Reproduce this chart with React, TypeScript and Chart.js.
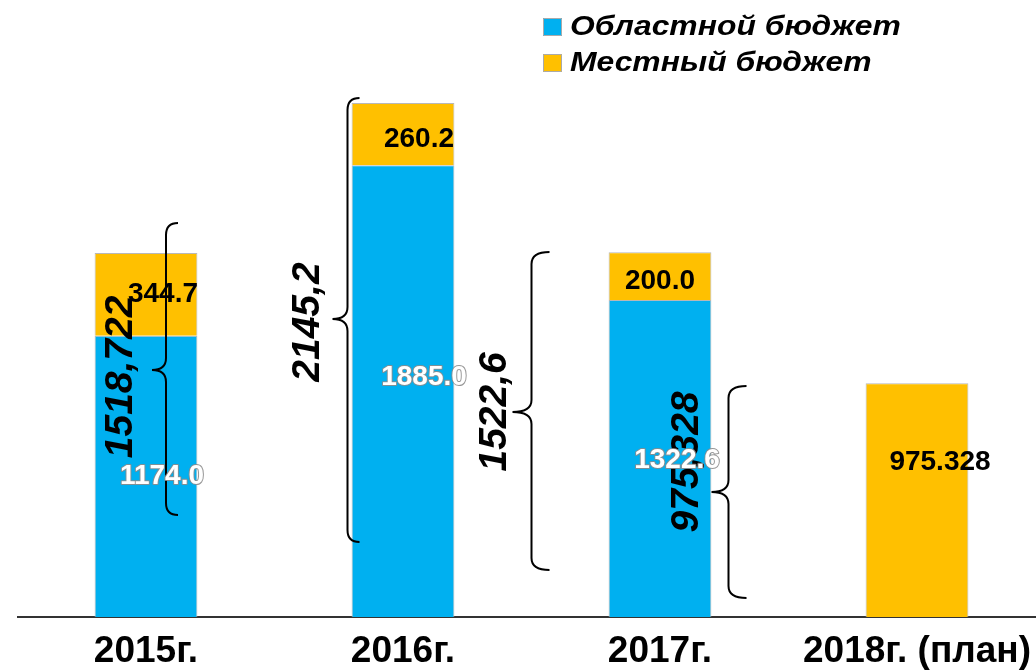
import React, { useEffect, useRef } from "react";
import { Chart, registerables } from "chart.js";

Chart.register(...registerables);

// ---- data ----
const categories = ["2015г.", "2016г.", "2017г.", "2018г. (план)"];
const seriesNames = ["Областной бюджет", "Местный бюджет"];
const regionalBudget: (number | null)[] = [1174.0, 1885.0, 1322.6, null];
const localBudget: (number | null)[] = [344.7, 260.2, 200.0, 975.328];
const totalLabels = ["1518,722", "2145,2", "1522,6", "975,328"];
// brace extents, in value units of the y axis
const braceTop = [1644, 2166, 1523, 964];
const braceMid = [1031, 1244, 856, 522];
const braceBottom = [426, 313, 196, 79];
const braceTextAt = [1002, 1231, 856, 647];

// ---- style ----
const COLORS = ["#00B0F0", "#FFC000"];
const FONT = "'Liberation Sans', Arial, sans-serif";
const BRACE_SPINE_DX = [20, -55.5, -128.5, -188.5];
const BRACE_END_W = [12, 12, 18, 18];
const BRACE_TIP_W = [14, 15, 19, 17];
const BRACE_TEXT_DX = [-25, -94.5, -164.5, -229.5];
const LABEL_DX = [
  [16, 21, 17, 0],
  [17, 16, 0, 23],
];
const LABEL_DY = [
  [0, -14, 2, 0],
  [0, 5, 5, -38],
];
const LEGEND_STRETCH = 1.18;

function fmt(v: number): string {
  const s = String(v);
  const dec = s.includes(".") ? s.split(".")[1].length : 0;
  return dec > 1 ? s : v.toFixed(1);
}

const annotate = {
  id: "annotate",
  afterDatasetsDraw(chart: any) {
    const { ctx } = chart;
    const xs = chart.scales.x;
    const ys = chart.scales.y;
    ctx.save();

    // braces + totals
    ctx.strokeStyle = "#000";
    ctx.lineWidth = 2;
    categories.forEach((_, i) => {
      const cx = xs.getPixelForValue(i);
      const sx = cx + BRACE_SPINE_DX[i];
      const ex = sx + BRACE_END_W[i];
      const tx = sx - BRACE_TIP_W[i];
      const top = ys.getPixelForValue(braceTop[i]);
      const mid = ys.getPixelForValue(braceMid[i]);
      const bot = ys.getPixelForValue(braceBottom[i]);
      const r = 12;
      ctx.beginPath();
      ctx.moveTo(ex, top);
      ctx.quadraticCurveTo(sx, top, sx, top + r);
      ctx.lineTo(sx, mid - r);
      ctx.quadraticCurveTo(sx, mid, tx, mid);
      ctx.quadraticCurveTo(sx, mid, sx, mid + r);
      ctx.lineTo(sx, bot - r);
      ctx.quadraticCurveTo(sx, bot, ex, bot);
      ctx.stroke();

      const ty = ys.getPixelForValue(braceTextAt[i]);
      ctx.save();
      ctx.translate(cx + BRACE_TEXT_DX[i], ty);
      ctx.rotate(-Math.PI / 2);
      ctx.font = `italic bold 39px ${FONT}`;
      ctx.fillStyle = "#000";
      ctx.textAlign = "center";
      ctx.textBaseline = "middle";
      ctx.fillText(totalLabels[i], 0, 0);
      ctx.restore();
    });

    // value labels
    ctx.font = `bold 28px ${FONT}`;
    ctx.textAlign = "center";
    ctx.textBaseline = "middle";
    chart.data.datasets.forEach((ds: any, d: number) => {
      const meta = chart.getDatasetMeta(d);
      meta.data.forEach((el: any, i: number) => {
        const v = ds.data[i];
        if (v === null || v === undefined) return;
        const x = el.x + LABEL_DX[d][i];
        const y = (el.y + el.base) / 2 + LABEL_DY[d][i];
        const t = fmt(v);
        if (d === 0) {
          ctx.lineWidth = 2;
          ctx.strokeStyle = "rgba(140,140,140,0.9)";
          ctx.lineJoin = "round";
          ctx.strokeText(t, x, y);
          ctx.fillStyle = "#fff";
          ctx.fillText(t, x, y);
        } else {
          ctx.fillStyle = "#000";
          ctx.fillText(t, x, y);
        }
      });
    });

    // legend
    chart.data.datasets.forEach((ds: any, d: number) => {
      const cy = 27 + d * 36;
      ctx.fillStyle = ds.backgroundColor;
      ctx.fillRect(543, cy - 9, 19, 18);
      ctx.lineWidth = 1;
      ctx.strokeStyle = "#aaa";
      ctx.strokeRect(543.5, cy - 8.5, 18, 17);
      ctx.save();
      ctx.translate(570, cy + 1);
      ctx.scale(LEGEND_STRETCH, 1);
      ctx.textAlign = "left";
      ctx.textBaseline = "middle";
      ctx.font = `italic bold 27px ${FONT}`;
      ctx.fillStyle = "#000";
      ctx.fillText(ds.label, 0, 0);
      ctx.restore();
    });

    ctx.restore();
  },
};

export default function App() {
  const ref = useRef<HTMLCanvasElement | null>(null);

  useEffect(() => {
    if (!ref.current) return;
    const chart = new Chart(ref.current, {
      type: "bar",
      data: {
        labels: categories,
        datasets: [
          {
            label: seriesNames[0],
            data: regionalBudget,
            backgroundColor: COLORS[0],
            borderColor: "#b8b8b8",
            borderWidth: 1,
            barPercentage: 0.4,
            categoryPercentage: 1,
          },
          {
            label: seriesNames[1],
            data: localBudget,
            backgroundColor: COLORS[1],
            borderColor: "#b8b8b8",
            borderWidth: 1,
            barPercentage: 0.4,
            categoryPercentage: 1,
          },
        ],
      },
      options: {
        responsive: false,
        animation: false,
        devicePixelRatio: 1,
        layout: { padding: { left: 17.5, right: 14.5, top: 18, bottom: 0 } },
        plugins: {
          legend: { display: false },
          tooltip: { enabled: false },
        },
        scales: {
          x: {
            stacked: true,
            grid: { display: false, drawTicks: false },
            border: { display: true, color: "#333", width: 2 },
            ticks: {
              color: "#000",
              font: { family: FONT, size: 37, weight: "bold" },
              padding: 12.3,
              autoSkip: false,
              maxRotation: 0,
            },
          },
          y: {
            stacked: true,
            display: false,
            min: 0,
            max: 2500,
          },
        },
      },
      plugins: [annotate],
    });
    return () => chart.destroy();
  }, []);

  return (
    <div
      style={{
        position: "fixed",
        left: 0,
        top: 0,
        width: 1036,
        height: 672,
        overflow: "hidden",
        background: "#fff",
      }}
    >
      <canvas
        ref={ref}
        width={1060}
        height={686}
        style={{ display: "block", width: 1060, height: 686 }}
      />
    </div>
  );
}
